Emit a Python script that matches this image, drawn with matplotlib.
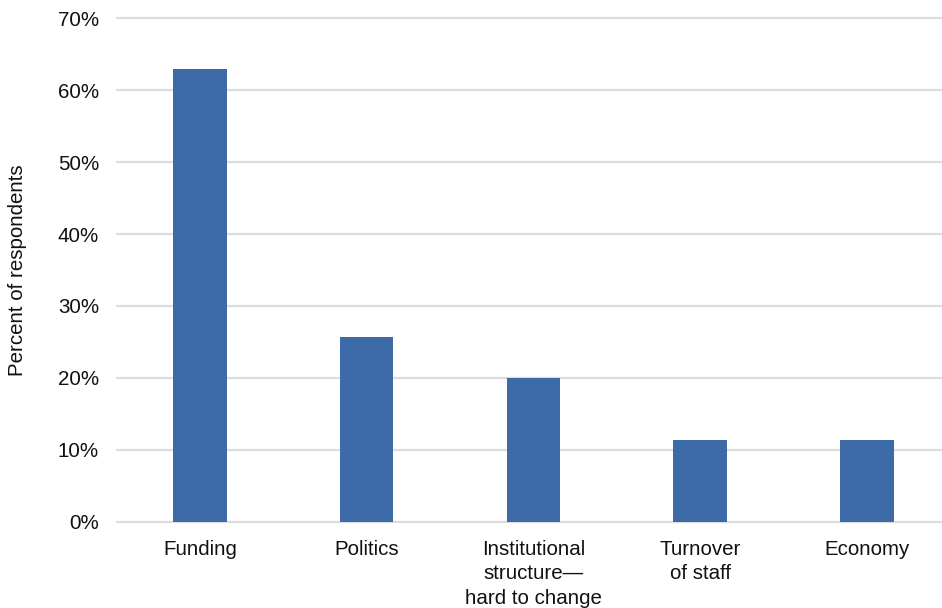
import matplotlib
matplotlib.use("Agg")
import matplotlib.pyplot as plt
from matplotlib.ticker import FuncFormatter, MultipleLocator

categories = ["Funding", "Politics", "Institutional\nstructure\u2014\nhard to change",
              "Turnover\nof staff", "Economy"]
values = [62.9, 25.7, 20.0, 11.4, 11.4]

plt.rcParams['font.family'] = ['Liberation Sans', 'DejaVu Sans']

fig = plt.figure(figsize=(9.42, 6.08), dpi=100)
ax = fig.add_axes([0.1236, 0.1383, 1.0 - 0.1236, 0.9735 - 0.1383])

ax.bar(range(len(categories)), values, width=0.32, color="#3D6AA8", zorder=3)

ax.set_xlim(-0.5, 4.45)
ax.set_ylim(-0.3, 70.3)
ax.yaxis.set_major_locator(MultipleLocator(10))
ax.yaxis.set_major_formatter(FuncFormatter(lambda v, p: f"{v:.0f}%"))
ax.grid(axis="y", color="#DDDDDD", linewidth=1.6, zorder=0)
ax.set_axisbelow(True)
for s in ax.spines.values():
    s.set_visible(False)

ax.set_xticks(range(len(categories)))
ax.set_xticklabels(categories, fontsize=14.8, color="#111111", linespacing=1.36)
ax.tick_params(axis="x", length=0, pad=11.5)
ax.tick_params(axis="y", length=0, pad=12.5, labelsize=14.8, labelcolor="#111111")

ax.set_ylabel("Percent of respondents", fontsize=14.8, color="#111111")
ax.yaxis.set_label_coords(-0.108, 0.5)

fig.savefig("out.png", dpi=100)
